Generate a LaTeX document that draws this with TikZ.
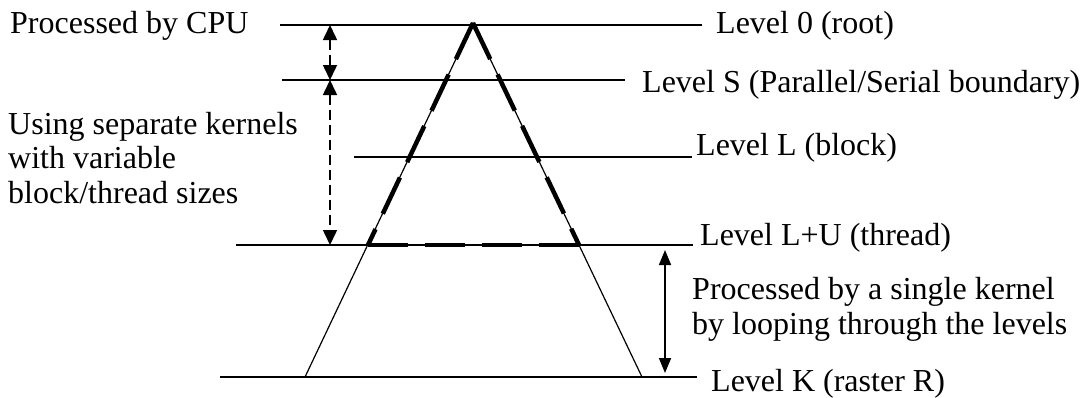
\documentclass[tikz,border=0pt]{standalone}
\usepackage{fontspec}
\setmainfont{Liberation Serif}
\usetikzlibrary{arrows.meta}
\begin{document}
\begin{tikzpicture}[x=1pt,y=-1pt,
  lbl/.style={inner sep=0pt,anchor=base west,font=\fontsize{32}{34.5}\selectfont,align=left},
  lvl/.style={line width=1.3pt},
  thin/.style={line width=1.2pt},
  thickdash/.style={line width=4.5pt,dash pattern=on 40pt off 17pt,line cap=butt},
  dimarrow/.style={line width=1.6pt,{Triangle[length=15pt,width=14pt]}-{Triangle[length=15pt,width=14pt]}},
  dashdim/.style={dimarrow,dash pattern=on 10pt off 5pt}]
\useasboundingbox (0,0) rectangle (1083,397);
% texts
\node[lbl] (cpu) at (10,33) {Processed by CPU};
\node[lbl] (sep) at (8,203) {Using separate kernels\\with variable\\block/thread sizes};
\node[lbl] (single) at (692,334) {Processed by a single kernel\\by looping through the levels};
\node[lbl] (t0) at (716,33) {Level 0 (root)};
\node[lbl] (tS) at (642,92) {Level S (Parallel/Serial boundary)};
\node[lbl] (tL) at (696,155) {Level L (block)};
\node[lbl] (tLU) at (700,245) {Level L+U (thread)};
\node[lbl] (tK) at (711,391) {Level K (raster R)};
% level lines
\coordinate (a0) at (280,25); \coordinate (b0) at (702,25);
\coordinate (aS) at (282,80); \coordinate (bS) at (625,80);
\coordinate (aL) at (354,157); \coordinate (bL) at (692,157);
\coordinate (aLU) at (236,245); \coordinate (bLU) at (693,245);
\coordinate (aK) at (220,377); \coordinate (bK) at (697,377);
\draw[lvl] (a0) -- (b0);
\draw[lvl] (aS) -- (bS);
\draw[lvl] (aL) -- (bL);
\draw[lvl] (aLU) -- (bLU);
\draw[lvl] (aK) -- (bK);
% triangle
\coordinate (apex) at (473,23);
\coordinate (bl) at (305,377);
\coordinate (br) at (642,377);
\coordinate (ml) at (368,245);
\coordinate (mr) at (579,245);
\draw[thin,line join=miter] (bl) -- (apex) -- (br);
\draw[thickdash,line join=miter] (apex) -- (ml);
\draw[thickdash,line join=miter] (apex) -- (mr);
\draw[thickdash] (ml) -- (mr);
% dimension arrows
\coordinate (d0) at (330,25);
\coordinate (dS) at (330,80);
\coordinate (dLU) at (330,245);
\draw[dashdim] (d0) -- (dS);
\draw[dashdim] (dS) -- (dLU);
\coordinate (e1) at (665,250);
\coordinate (e2) at (665,373);
\draw[dimarrow,{Triangle[length=15pt,width=12pt]}-{Triangle[length=15pt,width=12pt]}] (e1) -- (e2);
\end{tikzpicture}
\end{document}
